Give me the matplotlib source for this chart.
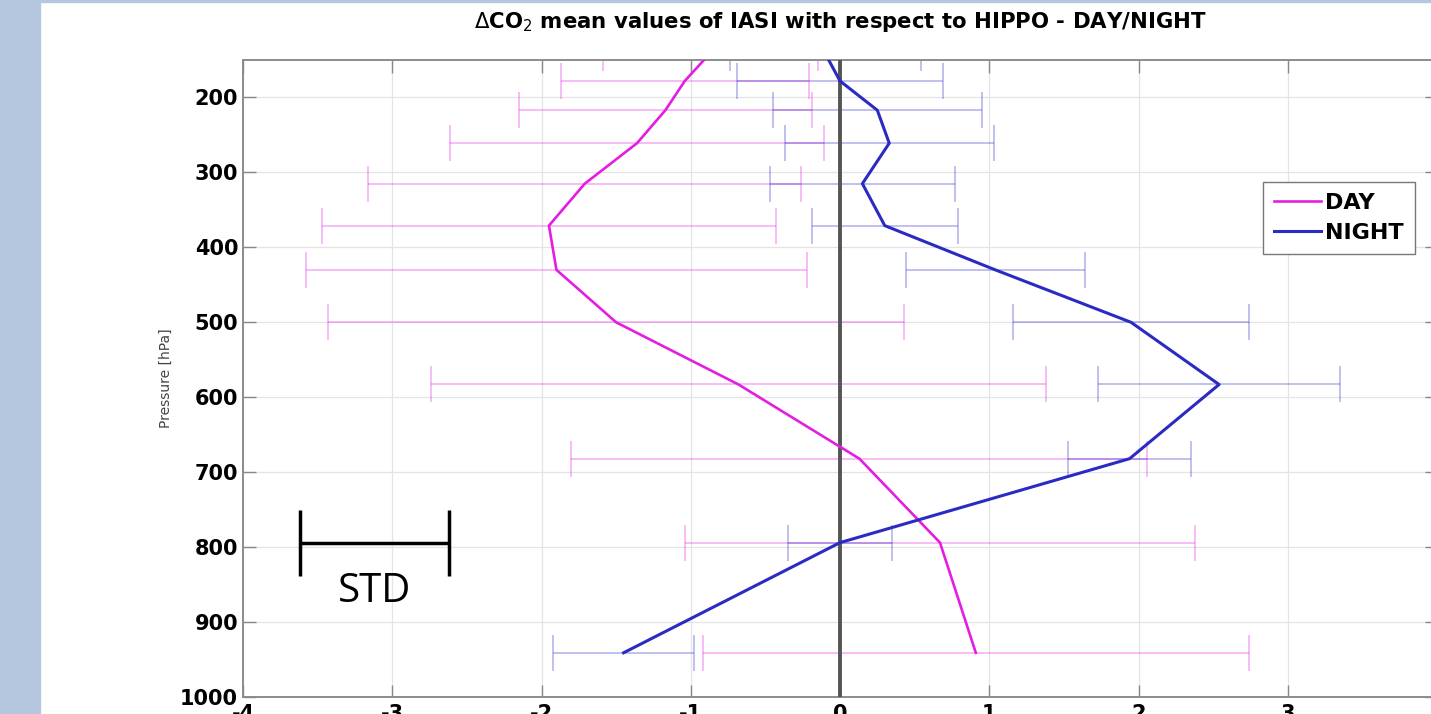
import matplotlib.pyplot as plt
from matplotlib.patches import Rectangle

# pressure levels [hPa] and mean / std of delta CO2 (ppm)
pressure = [141, 178, 217, 261, 315, 371, 430, 500, 583, 682, 794, 941]
day_mean = [-0.87, -1.04, -1.17, -1.36, -1.71, -1.95, -1.90, -1.50, -0.68, 0.13, 0.67, 0.91]
day_std = [0.72, 0.83, 0.98, 1.25, 1.45, 1.52, 1.68, 1.93, 2.06, 1.93, 1.71, 1.83]
night_mean = [-0.10, 0.00, 0.25, 0.33, 0.15, 0.30, 1.04, 1.95, 2.54, 1.94, 0.0, -1.45]
night_std = [0.64, 0.69, 0.70, 0.70, 0.62, 0.49, 0.60, 0.79, 0.81, 0.41, 0.35, 0.47]

xticks = [-4, -3, -2, -1, 0, 1, 2, 3, 4]
yticks = [200, 300, 400, 500, 600, 700, 800, 900, 1000]

# STD key drawn in the lower left corner
std_key_x = -3.12
std_key_p = 794
std_key_half = 0.5

day_col = '#e41ee0'
night_col = '#2b2bc4'

plt.rcParams['font.family'] = ['DejaVu Sans']
plt.rcParams['axes.unicode_minus'] = False

fig = plt.figure(figsize=(14.31, 7.14), dpi=100)
fig.patches.append(Rectangle((0, 0), 40 / 1431, 1, transform=fig.transFigure,
                             color='#b5c7de', zorder=0))
fig.patches.append(Rectangle((0, 1 - 2 / 714), 1, 2 / 714, transform=fig.transFigure,
                             color='#b5c7de', zorder=0))

ax = fig.add_axes([243 / 1431, 17 / 714, 1194 / 1431, 637 / 714])

ax.grid(True, color='#e4e4e4', lw=0.9)
ax.set_axisbelow(True)

ax.errorbar(day_mean, pressure, xerr=day_std, fmt='none', ecolor=day_col,
            alpha=0.35, elinewidth=1.2, capsize=13, capthick=1.2)
ax.errorbar(night_mean, pressure, xerr=night_std, fmt='none', ecolor=night_col,
            alpha=0.35, elinewidth=1.2, capsize=13, capthick=1.2)

ax.axvline(0, color='#555555', lw=2.8, zorder=3)

ax.plot(day_mean, pressure, color=day_col, lw=1.9, label='DAY', zorder=4)
ax.plot(night_mean, pressure, color=night_col, lw=2.2, label='NIGHT', zorder=4)

# STD key
ax.errorbar([std_key_x], [std_key_p], xerr=[std_key_half], fmt='none', ecolor='black',
            elinewidth=2.5, capsize=24, capthick=2.5, zorder=5)
ax.text(std_key_x, std_key_p + 38, 'STD', family='Open Sans', fontsize=29,
        ha='center', va='top', color='black')

ax.set_xlim(-4, 4)
ax.set_ylim(1000, 150)
ax.set_xticks(xticks)
ax.set_yticks(yticks)
ax.tick_params(direction='in', length=9, width=1, color='#888888', top=True, right=True)
ax.tick_params(axis='both', labelsize=15)
ax.tick_params(axis='x', pad=5)
for lab in ax.get_xticklabels() + ax.get_yticklabels():
    lab.set_fontweight('bold')
for sp in ax.spines.values():
    sp.set_color('#8c8c8c')
    sp.set_linewidth(1.4)

ax.set_ylabel('Pressure [hPa]', fontsize=10, color='#444444', labelpad=5)
ax.set_title(r'$\Delta$CO$_2$ mean values of IASI with respect to HIPPO - DAY/NIGHT',
             fontsize=15.3, fontweight='bold', pad=23)

leg = ax.legend(loc='upper right', bbox_to_anchor=(1415 / 1431, (714 - 182) / 714),
                bbox_transform=fig.transFigure, prop={'weight': 'bold', 'size': 16},
                fancybox=False, edgecolor='#777777', framealpha=1,
                handlelength=2.1, handletextpad=0.2, borderpad=0.5, labelspacing=0.45,
                borderaxespad=0)
leg.get_frame().set_linewidth(1.0)

fig.savefig('out.png', dpi=100)
